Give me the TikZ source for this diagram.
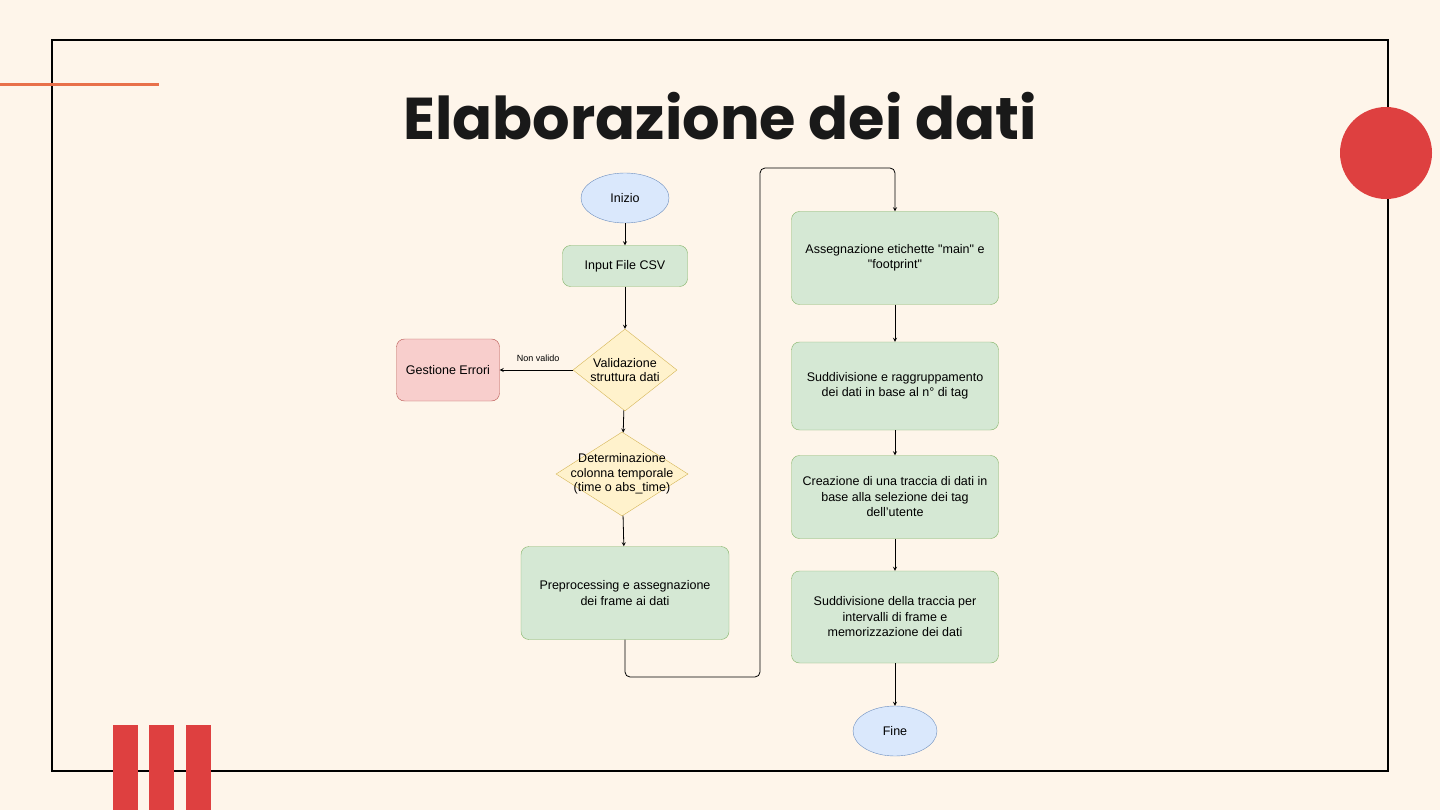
\documentclass[tikz,border=0pt]{standalone}
\usepackage{fontspec}
\setmainfont{Liberation Sans}
\newfontfamily\titlefont{Poppins}
\usetikzlibrary{positioning,arrows,shapes.geometric}
\definecolor{paper}{HTML}{FEF5EA}
\definecolor{accent}{HTML}{DE4040}
\definecolor{stripe}{HTML}{E8704A}
\definecolor{greenfill}{HTML}{D5E8D4}
\definecolor{greenline}{HTML}{82B366}
\definecolor{bluefill}{HTML}{DAE8FC}
\definecolor{blueline}{HTML}{6C8EBF}
\definecolor{yellowfill}{HTML}{FFF2CC}
\definecolor{yellowline}{HTML}{D6B656}
\definecolor{redfill}{HTML}{F8CECC}
\definecolor{redline}{HTML}{B85450}
\tikzset{
  process/.style={draw=greenline,fill=greenfill,rounded corners=8pt,align=center,
    font=\fontsize{12.5}{15.5}\selectfont,inner sep=2pt},
  terminal/.style={ellipse,draw=blueline,fill=bluefill,font=\fontsize{12.5}{15}\selectfont,
    minimum width=88pt,minimum height=50pt},
  check/.style={diamond,draw=yellowline,fill=yellowfill,align=center,aspect=1.27,
    inner sep=-12pt,font=\fontsize{12.5}{14.5}\selectfont},
  flow/.style={->,>=stealth,thick,black}
}
\begin{document}
\begin{tikzpicture}[x=1pt,y=-1pt]
  \useasboundingbox (0,0) rectangle (1440,810);
  \fill[paper] (0,0) rectangle (1440,810);

  % Slide decoration
  \draw[line width=2pt] (52,40) rectangle (1388,771);
  \draw[stripe,line width=3pt] (0,85) -- (159,85);
  \fill[accent] (1386,153) circle (46);
  \foreach \x in {113,149,186}
    \fill[accent] (\x,725) rectangle (\x+25,810);
  \node[font=\titlefont\bfseries\fontsize{59}{66}\selectfont,text=black!90] (title) at (720,116) {Elaborazione dei dati};

  % Left column
  \node[terminal] (start) at (625,198) {Inizio};
  \node[process,minimum width=125pt,minimum height=41pt] (input) at (625,266) {Input File CSV};
  \node[check,minimum width=104pt,minimum height=82pt] (valid) at (625,370) {Validazione\\struttura dati};
  \node[draw=redline,fill=redfill,rounded corners=8pt,minimum width=103pt,minimum height=62pt,
    font=\fontsize{12.5}{15}\selectfont] (errors) at (448,370) {Gestione Errori};
  \node[check,minimum width=132pt,minimum height=84pt] (timecol) at (622,474)
    {Determinazione\\colonna temporale\\(time o abs\_time)};
  \node[process,minimum width=208pt,minimum height=93pt] (prep) at (625,593)
    {Preprocessing e assegnazione\\dei frame ai dati};

  % Right column
  \node[process,minimum width=207pt,minimum height=93pt] (labels) at (895,258)
    {Assegnazione etichette \textquotedbl main\textquotedbl{} e\\\textquotedbl footprint\textquotedbl};
  \node[process,minimum width=207pt,minimum height=88pt] (group) at (895,386)
    {Suddivisione e raggruppamento\\dei dati in base al n° di tag};
  \node[process,minimum width=207pt,minimum height=83pt] (trace) at (895,497)
    {Creazione di una traccia di dati in\\base alla selezione dei tag\\dell'utente};
  \node[process,minimum width=207pt,minimum height=92pt] (split) at (895,617)
    {Suddivisione della traccia per\\intervalli di frame e\\memorizzazione dei dati};
  \node[terminal,minimum width=84pt] (stop) at (895,731) {Fine};

  % Connectors
  \draw[flow] (start) -- (input);
  \draw[flow] (input) -- (valid);
  \draw[flow] (valid) -- node[above,font=\fontsize{9}{10}\selectfont,xshift=2pt,yshift=5pt] {Non valido} (errors);
  \draw[flow] (valid) -- (timecol);
  \draw[flow] (timecol) -- (prep);
  \draw[flow,rounded corners=5pt] (prep.south) -- (625,677) -- (760,677) -- (760,168)
    -- (895,168) -- (labels.north);
  \draw[flow] (labels) -- (group);
  \draw[flow] (group) -- (trace);
  \draw[flow] (trace) -- (split);
  \draw[flow] (split) -- (stop);
\end{tikzpicture}
\end{document}
